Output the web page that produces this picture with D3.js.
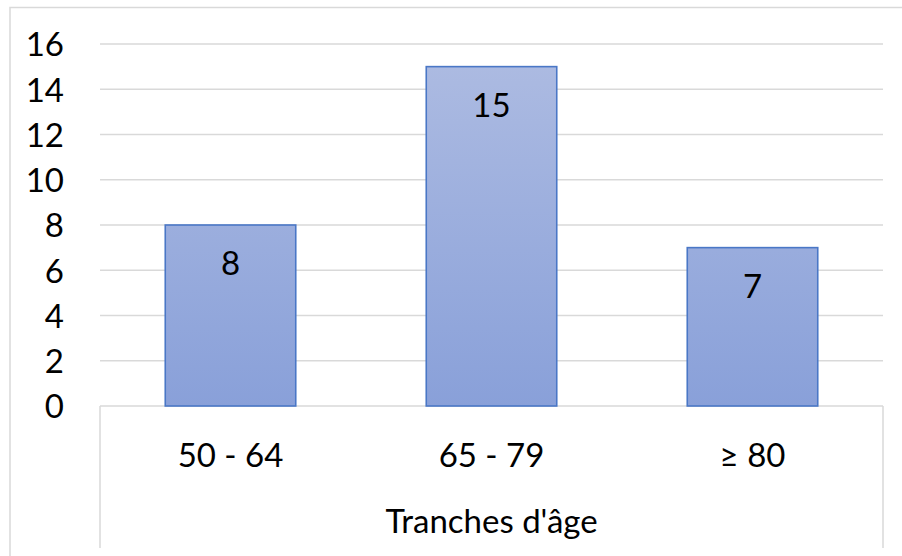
<!DOCTYPE html>
<html>
<head>
<meta charset="utf-8">
<script src="https://cdn.jsdelivr.net/npm/d3@7"></script>
<style>
  html, body { margin: 0; padding: 0; background: #fff; }
  svg { display: block; }
  text { font-family: Lato, "Open Sans", sans-serif; fill: #000; }
</style>
</head>
<body>
<svg id="chart" width="902" height="556"></svg>
<script>
// Age groups and number of people in each
const categories = ["50 - 64", "65 - 79", "≥ 80"];
const counts = [8, 15, 7];
const yTicks = [0, 2, 4, 6, 8, 10, 12, 14, 16];
const axisTitle = "Tranches d'âge";

const svg = d3.select("#chart");
const W = 902, H = 556;
const plot = { left: 100, right: 883, top: 44, bottom: 406 };
const axisBoxBottom = 548;
const fontSize = 33;

// Outer chart frame (runs off the right and bottom edges)
svg.append("rect")
  .attr("x", 10).attr("y", 7.5)
  .attr("width", W).attr("height", H)
  .attr("fill", "none").attr("stroke", "#d9d9d9").attr("stroke-width", 1.5);

const x = d3.scaleBand()
  .domain(categories)
  .range([plot.left, plot.right])
  .paddingInner(0.5).paddingOuter(0.25);

const y = d3.scaleLinear()
  .domain([0, 16])
  .range([plot.bottom, plot.top]);

// Vertical gradient fill for the bars
const defs = svg.append("defs");
const grad = defs.append("linearGradient")
  .attr("id", "barFill")
  .attr("gradientUnits", "userSpaceOnUse")
  .attr("x1", 0).attr("x2", 0)
  .attr("y1", plot.top).attr("y2", plot.bottom);
grad.append("stop").attr("offset", "0%").attr("stop-color", "#aebce2");
grad.append("stop").attr("offset", "100%").attr("stop-color", "#89a0d9");

// Horizontal gridlines
svg.append("g")
  .selectAll("line")
  .data(yTicks.filter(d => d > 0))
  .join("line")
  .attr("x1", plot.left).attr("x2", plot.right)
  .attr("y1", d => y(d)).attr("y2", d => y(d))
  .attr("stroke", "#d9d9d9").attr("stroke-width", 1.5);

// Category axis box: baseline plus side rules
const axisG = svg.append("g").attr("stroke", "#d9d9d9").attr("stroke-width", 1.5);
axisG.append("line")
  .attr("x1", plot.left).attr("x2", plot.right)
  .attr("y1", y(0)).attr("y2", y(0));
axisG.append("line")
  .attr("x1", plot.left).attr("x2", plot.left)
  .attr("y1", y(0)).attr("y2", axisBoxBottom);
axisG.append("line")
  .attr("x1", plot.right).attr("x2", plot.right)
  .attr("y1", y(0)).attr("y2", axisBoxBottom);

// Y tick labels
const yAxis = d3.axisLeft(y).tickValues(yTicks).tickSize(0).tickPadding(0);
const yG = svg.append("g")
  .attr("transform", `translate(64,0)`)
  .call(yAxis);
yG.select(".domain").remove();
yG.selectAll("text")
  .attr("font-size", fontSize)
  .attr("font-family", "Lato, 'Open Sans', sans-serif")
  .attr("fill", "#000")
  .attr("dy", "0.36em");

// Bars
const data = categories.map((c, i) => ({ cat: c, value: counts[i] }));
svg.append("g")
  .selectAll("rect")
  .data(data)
  .join("rect")
  .attr("x", d => x(d.cat))
  .attr("y", d => y(d.value))
  .attr("width", x.bandwidth())
  .attr("height", d => y(0) - y(d.value))
  .attr("fill", "url(#barFill)")
  .attr("stroke", "#4a77c6")
  .attr("stroke-width", 1.6);

// Value labels inside the top of each bar
svg.append("g")
  .selectAll("text")
  .data(data)
  .join("text")
  .attr("x", d => x(d.cat) + x.bandwidth() / 2)
  .attr("y", d => y(d.value) + 38)
  .attr("dy", "0.36em")
  .attr("text-anchor", "middle")
  .attr("font-size", fontSize)
  .text(d => d.value);

// Category labels
svg.append("g")
  .selectAll("text")
  .data(categories)
  .join("text")
  .attr("x", d => x(d) + x.bandwidth() / 2)
  .attr("y", 455)
  .attr("dy", "0.36em")
  .attr("text-anchor", "middle")
  .attr("font-size", fontSize)
  .text(d => d);

// Axis title
svg.append("text")
  .attr("x", (plot.left + plot.right) / 2)
  .attr("y", 521)
  .attr("dy", "0.36em")
  .attr("text-anchor", "middle")
  .attr("font-size", fontSize)
  .text(axisTitle);
</script>
</body>
</html>
